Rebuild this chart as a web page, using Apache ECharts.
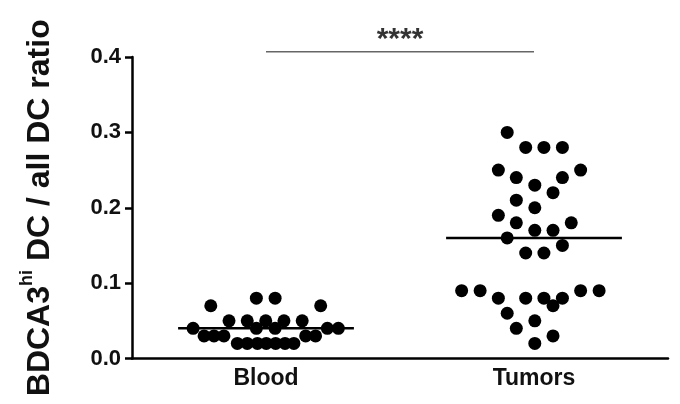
<!DOCTYPE html>
<html>
<head>
<meta charset="utf-8">
<script src="https://cdn.jsdelivr.net/npm/echarts@6/dist/echarts.min.js"></script>
<style>
html,body{margin:0;padding:0;background:#fff;}
#chart{width:680px;height:404px;}
</style>
</head>
<body>
<div id="chart"></div>
<script>
// ---- data ----
const categories = ['Blood', 'Tumors'];
const yTicks = [0, 0.1, 0.2, 0.3, 0.4];

// Blood: horizontal jitter positions (category units, Blood = 1) and values
const bloodX = [0.794, 1.204, 0.964, 1.034,
  0.862, 0.930, 0.999, 1.067, 1.135,
  0.728, 0.964, 1.034, 1.229, 1.270,
  0.769, 0.806, 0.843, 1.148, 1.185,
  0.893, 0.930, 0.968, 1.001, 1.036, 1.071, 1.104];
const bloodY = [0.07, 0.07, 0.08, 0.08,
  0.05, 0.05, 0.05, 0.05, 0.05,
  0.04, 0.04, 0.04, 0.04, 0.04,
  0.03, 0.03, 0.03, 0.03, 0.03,
  0.02, 0.02, 0.02, 0.02, 0.02, 0.02, 0.02];

// Tumors: jitter positions (Tumors = 2) and values
const tumorX = [1.900,
  1.969, 2.037, 2.106,
  1.867, 2.174,
  1.934, 2.106,
  2.003,
  2.071,
  1.934,
  2.003,
  1.867,
  1.934, 2.139,
  2.003, 2.071,
  1.900,
  2.106,
  1.969, 2.037,
  1.730, 1.799, 2.174, 2.243,
  1.867, 1.969, 2.037, 2.106,
  2.071,
  1.900,
  2.003,
  1.934,
  2.071,
  2.003];
const tumorY = [0.30,
  0.28, 0.28, 0.28,
  0.25, 0.25,
  0.24, 0.24,
  0.23,
  0.22,
  0.21,
  0.20,
  0.19,
  0.18, 0.18,
  0.17, 0.17,
  0.16,
  0.15,
  0.14, 0.14,
  0.09, 0.09, 0.09, 0.09,
  0.08, 0.08, 0.08, 0.08,
  0.07,
  0.06,
  0.05,
  0.04,
  0.03,
  0.02];

const medians = [0.04, 0.16];
const significance = '****';
const sigLevel = 0.407;

// ---- chart ----
const chart = echarts.init(document.getElementById('chart'), null, {renderer: 'canvas'});
const font = 'Liberation Sans, Arial, Helvetica, sans-serif';
const medianHalf = 0.328;

const zip = (xs, ys) => xs.map((x, i) => [x, ys[i]]);

const series = [
  {
    type: 'scatter', xAxisIndex: 1, yAxisIndex: 0,
    data: zip(bloodX, bloodY), symbol: 'circle', symbolSize: 13,
    itemStyle: {color: '#000', opacity: 1}, z: 3
  },
  {
    type: 'scatter', xAxisIndex: 1, yAxisIndex: 0,
    data: zip(tumorX, tumorY), symbol: 'circle', symbolSize: 13,
    itemStyle: {color: '#000', opacity: 1}, z: 3
  }
];
medians.forEach((m, i) => {
  const c = i + 1;
  series.push({
    type: 'line', xAxisIndex: 1, yAxisIndex: 0,
    data: [[c - medianHalf, m], [c + medianHalf, m]],
    symbol: 'none', lineStyle: {color: '#000', width: 2.5}, z: 4, silent: true
  });
});
series.push({
  type: 'line', xAxisIndex: 1, yAxisIndex: 0, clip: false,
  data: [[1, sigLevel], [2, sigLevel]],
  symbol: 'none', lineStyle: {color: '#666', width: 1.5}, silent: true
});
series.push({
  type: 'scatter', xAxisIndex: 1, yAxisIndex: 0, clip: false,
  data: [[1.5, sigLevel]], symbol: 'circle', symbolSize: 1,
  itemStyle: {color: 'rgba(0,0,0,0)'}, silent: true,
  label: {show: true, position: 'inside', formatter: significance, color: '#000',
    fontSize: 30, fontWeight: 'bold', fontFamily: font, offset: [0, -12]}
});

chart.setOption({
  animation: false,
  backgroundColor: '#fff',
  grid: {left: 132, right: 12, top: 57, bottom: 45.5, containLabel: false},
  xAxis: [
    {
      type: 'category', data: categories, position: 'bottom',
      axisLine: {lineStyle: {color: '#000', width: 2.5}},
      axisTick: {alignWithLabel: true, length: 7, lineStyle: {color: '#000', width: 2.5}},
      axisLabel: {color: '#111', fontSize: 23, fontWeight: 'bold', fontFamily: font, margin: 9},
      splitLine: {show: false}
    },
    {
      type: 'value', min: 0.5, max: 2.5, show: false
    }
  ],
  yAxis: [{
    type: 'value', min: 0, max: 0.4, interval: 0.1,
    axisLine: {show: true, lineStyle: {color: '#000', width: 2.5}},
    axisTick: {show: true, length: 7, lineStyle: {color: '#000', width: 2.5}},
    axisLabel: {
      color: '#111', fontSize: 22, fontWeight: 'bold', fontFamily: font, margin: 11,
      formatter: v => yTicks.includes(Math.round(v * 10) / 10) ? v.toFixed(1) : ''
    },
    splitLine: {show: false},
    name: '{a|BDCA3}{s|hi}{a| DC / all DC ratio}',
    nameLocation: 'middle', nameRotate: 90, nameGap: 76,
    nameTextStyle: {
      rich: {
        a: {fontSize: 32, fontWeight: 'bold', fontFamily: font, color: '#111', verticalAlign: 'bottom', lineHeight: 38},
        s: {fontSize: 18, fontWeight: 'bold', fontFamily: font, color: '#111', verticalAlign: 'top', lineHeight: 38, padding: [0, 0, 14, 0]}
      }
    }
  }],
  series: series
});
</script>
</body>
</html>
